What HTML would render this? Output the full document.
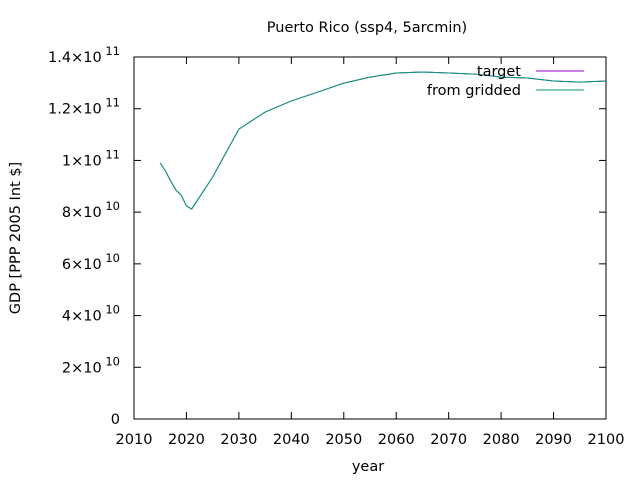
<!DOCTYPE html>
<html><head><meta charset="utf-8"><style>
body{margin:0;background:#fff}
svg{display:block;font-family:"DejaVu Sans","Liberation Sans",sans-serif}
</style></head><body>
<svg id="chart" width="640" height="480" viewBox="0 0 640 480">
<text x="367" y="32" font-size="14.5" text-anchor="middle">Puerto Rico (ssp4, 5arcmin)</text>
<rect x="134" y="57" width="472" height="362" fill="none" stroke="#000" stroke-width="1"/>
<g id="xticks"></g>
<g id="yticks"></g>
<text x="368" y="471" font-size="14.5" text-anchor="middle">year</text>
<text transform="translate(20,238) rotate(-90)" font-size="14.5" text-anchor="middle">GDP [PPP 2005 Int $]</text>
<g id="series"></g>
<g>
<text x="521" y="76" font-size="14.5" text-anchor="end">target</text>
<line x1="536" y1="71" x2="584" y2="71" stroke="#9400d3" stroke-width="1"/>
<text x="521" y="95" font-size="14.5" text-anchor="end">from gridded</text>
<line x1="536" y1="90" x2="584" y2="90" stroke="#009e73" stroke-width="1"/>
</g>
</svg>
<script>
const years=[2015,2016,2017,2018,2019,2020,2021,2025,2030,2035,2040,2045,2050,2055,2060,2065,2070,2075,2080,2085,2090,2095,2100];
const targetVals=[99.0,95.9,92.0,88.5,86.6,82.4,81.2,93.6,112.1,118.7,123.0,126.4,129.9,132.2,133.8,134.2,133.8,133.4,132.2,131.9,130.7,130.3,130.7];
const griddedVals=[99.0,95.9,92.0,88.5,86.6,82.4,81.2,93.6,112.1,118.7,123.0,126.4,129.9,132.2,133.8,134.2,133.8,133.4,132.2,131.9,130.7,130.3,130.7];
const xTicks=[2010,2020,2030,2040,2050,2060,2070,2080,2090,2100];
const yTickMant=["0","2","4","6","8","1","1.2","1.4"];
const yTickExp=["","10","10","10","10","11","11","11"];
const yTickVals=[0,20,40,60,80,100,120,140];
const NS="http://www.w3.org/2000/svg";
function xs(v){return 134+(v-2010)*(472/90);}
function ys(v){return 419-v*(362/140);}
const xg=document.getElementById('xticks'),yg=document.getElementById('yticks'),sg=document.getElementById('series');
function mk(t,a,p){const e=document.createElementNS(NS,t);for(const k in a)e.setAttribute(k,a[k]);p.appendChild(e);return e;}
xTicks.forEach(v=>{const x=xs(v);
 const l1=mk('line',{x1:x,y1:419,x2:x,y2:412,stroke:'#000'},xg);
 
 
 const l2=mk('line',{x1:x,y1:57,x2:x,y2:64,stroke:'#000'},xg);
 
 
 const t=mk('text',{x:x,y:444,'font-size':14.5,'text-anchor':'middle'},xg);t.textContent=v;
 
 
});
yTickVals.forEach((v,i)=>{const y=ys(v);
 const l1=mk('line',{x1:134,y1:y,x2:141,y2:y,stroke:'#000'},yg);
 
 
 const l2=mk('line',{x1:606,y1:y,x2:599,y2:y,stroke:'#000'},yg);
 
 
 const t=mk('text',{x:120,y:y+5,'font-size':14.5,'text-anchor':'end'},yg);
 
 
 if(yTickExp[i]){t.textContent=yTickMant[i]+'\u00d710';const s=mk('tspan',{dy:-7,'font-size':11.5},t);s.textContent=' '+yTickExp[i];}
 else t.textContent=yTickMant[i];
});
function line(vals,color,name){const p=mk('polyline',{points:years.map((y,i)=>xs(y)+','+ys(vals[i])).join(' '),fill:'none',stroke:color,'stroke-width':1},sg);
 
 }
line(targetVals,'#9400d3','target-line');
line(griddedVals,'#009e73','gridded-line');
</script>
</body></html>
